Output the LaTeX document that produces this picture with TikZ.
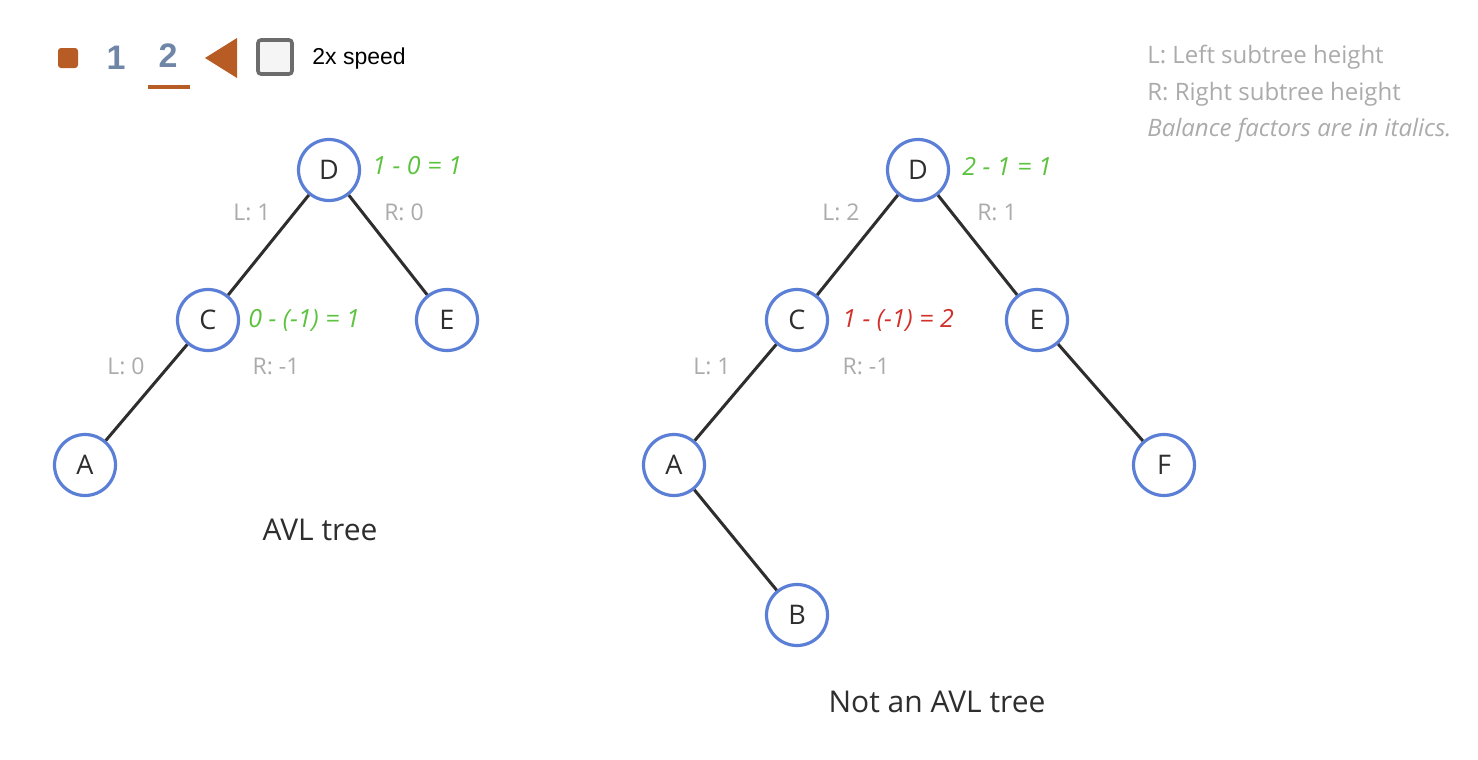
\documentclass[tikz,border=0pt]{standalone}
\usepackage{fontspec}
\setmainfont{Open Sans}
\newfontfamily\uifont{Liberation Sans}
\begin{document}
\begin{tikzpicture}[x=0.5pt,y=-0.5pt,
  tnode/.style={circle,draw=nodeblue,line width=1.6pt,fill=white,minimum size=30.5pt,inner sep=0pt,font=\fontsize{13.5}{15}\selectfont,text=textdark},
  edge/.style={draw=textdark,line width=1.5pt},
  hlabel/.style={text=lgray,font=\fontsize{11.5}{13}\selectfont},
  bal/.style={anchor=west,font=\fontsize{12.5}{14}\selectfont\itshape,inner sep=0pt},
  caption/.style={text=textdark,font=\fontsize{15}{17}\selectfont},
  legend/.style={anchor=west,text=lgray,font=\fontsize{12}{14}\selectfont,inner sep=0pt}]
\definecolor{nodeblue}{HTML}{5B7FD6}
\definecolor{textdark}{HTML}{2E2E2E}
\definecolor{lgray}{HTML}{ABABAB}
\definecolor{bgreen}{HTML}{5CC33E}
\definecolor{bred}{HTML}{D2302A}
\definecolor{orng}{HTML}{B85C26}
\definecolor{slate}{HTML}{6F86A6}
\useasboundingbox[fill=white] (0,0) rectangle (1478,760);
% toolbar
\node[fill=orng,rounded corners=1.5pt,minimum size=10pt,inner sep=0pt] (stopbtn) at (68,58) {};
\node[text=slate,font=\uifont\bfseries\fontsize{17}{19}\selectfont] (one) at (116,58) {1};
\node[text=slate,font=\uifont\bfseries\fontsize{17}{19}\selectfont] (two) at (168,56) {2};
\draw[orng,line width=1.8pt] (148,87) -- (190,87);
\fill[orng] (205,58) -- (237,38) -- (237,78) -- cycle;
\node[draw=gray!85!black,fill=gray!8,line width=1.8pt,rounded corners=1.5pt,minimum size=17pt,inner sep=0pt] (chk) at (275,57) {};
\node[anchor=west,inner sep=0pt,font=\uifont\fontsize{11.5}{13}\selectfont,text=black] (speed) at (312,59) {2x speed};
% legend
\node[legend] (lg1) at (1147,57) {L: Left subtree height};
\node[legend] (lg2) at (1147,94) {R: Right subtree height};
\node[legend,font=\fontsize{12}{14}\selectfont\itshape] (lg3) at (1147,130) {Balance factors are in italics.};
% left tree
\node[tnode] (D1) at (329,170) {D};
\node[tnode] (C1) at (208,320) {C};
\node[tnode] (E1) at (447,320) {E};
\node[tnode] (A1) at (85,465) {A};
\draw[edge] (D1) -- (C1);
\draw[edge] (D1) -- (E1);
\draw[edge] (C1) -- (A1);
\node[bal,text=bgreen] (bD1) at (372,166) {1 - 0 = 1};
\node[hlabel] (lD1) at (252,212) {L: 1};
\node[hlabel] (rD1) at (404,212) {R: 0};
\node[bal,text=bgreen] (bC1) at (248,320) {0 - (-1) = 1};
\node[hlabel] (lC1) at (126,366) {L: 0};
\node[hlabel] (rC1) at (276,366) {R: -1};
\node[caption] (cap1) at (320,530) {AVL tree};
% right tree
\node[tnode] (D2) at (918,170) {D};
\node[tnode] (C2) at (797,320) {C};
\node[tnode] (E2) at (1037,320) {E};
\node[tnode] (A2) at (674,465) {A};
\node[tnode] (F2) at (1164,465) {F};
\node[tnode] (B2) at (797,615) {B};
\draw[edge] (D2) -- (C2);
\draw[edge] (D2) -- (E2);
\draw[edge] (C2) -- (A2);
\draw[edge] (A2) -- (B2);
\draw[edge] (E2) -- (F2);
\node[bal,text=bgreen] (bD2) at (962,166) {2 - 1 = 1};
\node[hlabel] (lD2) at (841,212) {L: 2};
\node[hlabel] (rD2) at (997,212) {R: 1};
\node[bal,text=bred] (bC2) at (842,320) {1 - (-1) = 2};
\node[hlabel] (lC2) at (712,366) {L: 1};
\node[hlabel] (rC2) at (866,366) {R: -1};
\node[caption] (cap2) at (937,702) {Not an AVL tree};
\end{tikzpicture}
\end{document}
